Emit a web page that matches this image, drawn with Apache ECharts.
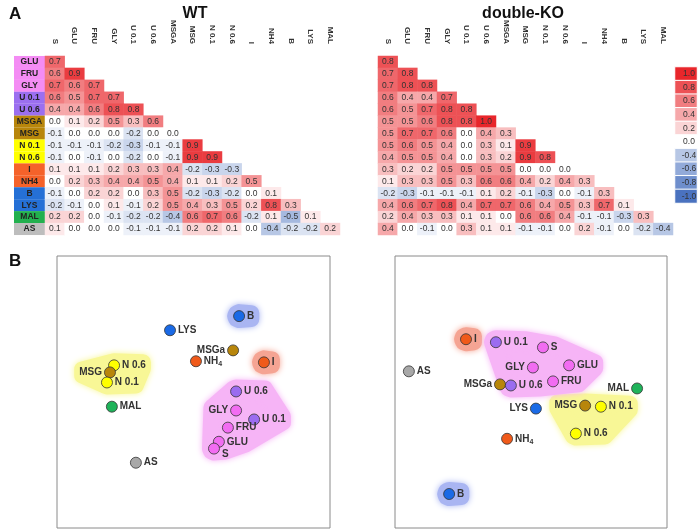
<!DOCTYPE html>
<html>
<head>
<meta charset="utf-8">
<script src="https://cdn.jsdelivr.net/npm/echarts@6/dist/echarts.min.js"></script>
<style>html,body{margin:0;padding:0;background:#fff}#c{width:700px;height:531px}</style>
</head>
<body>
<div id="c"></div>
<script>
// ---------- DATA ----------
const COLS = ['S','GLU','FRU','GLY','U 0.1','U 0.6','MSGA','MSG','N 0.1','N 0.6','I','NH4','B','LYS','MAL'];
const ROWS = ['GLU','FRU','GLY','U 0.1','U 0.6','MSGA','MSG','N 0.1','N 0.6','I','NH4','B','LYS','MAL','AS'];
const ROW_GROUP = ['sug','sug','sug','u','u','msg','msg','n','n','i','i','b','b','mal','as'];

const wtCorr = [
  [0.7],
  [0.6,0.9],
  [0.7,0.6,0.7],
  [0.6,0.5,0.7,0.7],
  [0.4,0.4,0.6,0.8,0.8],
  [0.0,0.1,0.2,0.5,0.3,0.6],
  [-0.1,0.0,0.0,0.0,-0.2,0.0,0.0],
  [-0.1,-0.1,-0.1,-0.2,-0.3,-0.1,-0.1,0.9],
  [-0.1,0.0,-0.1,0.0,-0.2,0.0,-0.1,0.9,0.9],
  [0.1,0.1,0.1,0.2,0.3,0.3,0.4,-0.2,-0.3,-0.3],
  [0.0,0.2,0.3,0.4,0.4,0.5,0.4,0.1,0.1,0.2,0.5],
  [-0.1,0.0,0.2,0.2,0.0,0.3,0.5,-0.2,-0.3,-0.2,0.0,0.1],
  [-0.2,-0.1,0.0,0.1,-0.1,0.2,0.5,0.4,0.3,0.5,0.2,0.8,0.3],
  [0.2,0.2,0.0,-0.1,-0.2,-0.2,-0.4,0.6,0.7,0.6,-0.2,0.1,-0.5,0.1],
  [0.1,0.0,0.0,0.0,-0.1,-0.1,-0.1,0.2,0.2,0.1,0.0,-0.4,-0.2,-0.2,0.2]
];
const koCorr = [
  [0.8],
  [0.7,0.8],
  [0.7,0.8,0.8],
  [0.6,0.4,0.4,0.7],
  [0.6,0.5,0.7,0.8,0.8],
  [0.5,0.5,0.6,0.8,0.8,1.0],
  [0.5,0.7,0.7,0.6,0.0,0.4,0.3],
  [0.5,0.6,0.5,0.4,0.0,0.3,0.1,0.9],
  [0.4,0.5,0.5,0.4,0.0,0.3,0.2,0.9,0.8],
  [0.3,0.2,0.2,0.5,0.5,0.5,0.5,0.0,0.0,0.0],
  [0.1,0.3,0.3,0.5,0.3,0.6,0.6,0.4,0.2,0.4,0.3],
  [-0.2,-0.3,-0.1,-0.1,-0.1,0.1,0.2,-0.1,-0.3,0.0,-0.1,0.3],
  [0.4,0.6,0.7,0.8,0.4,0.7,0.7,0.6,0.4,0.5,0.3,0.7,0.1],
  [0.2,0.4,0.3,0.3,0.1,0.1,0.0,0.6,0.6,0.4,-0.1,-0.1,-0.3,0.3],
  [0.4,0.0,-0.1,0.0,0.3,0.1,0.1,-0.1,-0.1,0.0,0.2,-0.1,0.0,-0.2,-0.4]
];
const legendVals = [1.0,0.8,0.6,0.4,0.2,0.0,-0.4,-0.6,-0.8,-1.0];

// MDS maps (arbitrary units, 0-100 frame)
const mdsNames = ['B','LYS','MSGa','NH4','I','N 0.6','MSG','N 0.1','MAL','U 0.6','GLY','U 0.1','FRU','GLU','S','AS'];
const wtX = [66.7,41.4,64.5,50.9,75.8,20.9,19.4,18.3,20.1,65.6,65.6,72.2,62.6,59.3,57.5,28.9];
const wtY = [77.9,72.7,65.3,61.3,60.9,59.8,57.2,53.5,44.6,50.2,43.2,39.9,36.9,31.7,29.2,24.0];
const koX = [19.9,51.8,38.6,41.2,26.1,66.5,69.9,75.7,89.0,42.6,50.7,37.1,58.1,64.0,54.4,5.1];
const koY = [12.5,43.9,52.8,32.8,69.4,34.7,45.0,44.6,51.3,52.4,59.0,68.3,53.9,59.8,66.4,57.6];

const wtClusters = [['B'],['I'],['MSG','N 0.1','N 0.6'],['U 0.6','GLY','U 0.1','FRU','GLU','S']];
const koClusters = [['B'],['I'],['MSG','N 0.1','N 0.6'],['U 0.1','S','GLY','GLU','U 0.6','FRU']];

// ---------- STYLES ----------
const FONT = 'Arial, "Liberation Sans", sans-serif';
const GROUP_BG = {sug:'#f48cf4', u:'#9b6ff0', msg:'#b8860b', n:'#ffff00', i:'#f5622a', b:'#2570d6', mal:'#22b04e', as:'#bdbdbd'};
const POINT_COLOR = {'B':'#1a6ae6','LYS':'#1a6ae6','MSGa':'#b8860b','MSG':'#b8860b','NH4':'#f05a1a','I':'#f05a1a',
  'N 0.6':'#ffff00','N 0.1':'#ffff00','MAL':'#1fb35a','U 0.6':'#9b6cf0','U 0.1':'#9b6cf0',
  'GLY':'#f26cf2','FRU':'#f26cf2','GLU':'#f26cf2','S':'#f26cf2','AS':'#a8a8a8'};
const BLOB_COLOR = {'B':'#a9b5f2','I':'#f5a493','MSG':'#f8f796','U 0.6':'#f6b4f6','U 0.1':'#f6b4f6'};
const wtSide = {'B':'right','LYS':'right','MSGa':'left','NH4':'right','I':'right','N 0.6':'right','MSG':'left','N 0.1':'right',
  'MAL':'right','U 0.6':'right','GLY':'left','U 0.1':'right','FRU':'right','GLU':'right','S':'right','AS':'right'};
const koSide = {'B':'right','LYS':'left','MSGa':'left','NH4':'right','I':'right','N 0.6':'right','MSG':'left','N 0.1':'right',
  'MAL':'left','U 0.6':'right','GLY':'left','U 0.1':'right','FRU':'right','GLU':'right','S':'right','AS':'right'};
const wtOffset = {'S':[0,6]};

// ---------- HELPERS ----------
function triData(m){ const out=[]; m.forEach((row,r)=>row.forEach((v,c)=>out.push([c,r,v]))); return out; }
const mctx = document.createElement('canvas').getContext('2d');
mctx.font = 'bold 10px ' + FONT;
function lblW(n){ return mctx.measureText(n).width; }
function hull(pts){
  pts.sort((a,b)=>a[0]-b[0]||a[1]-b[1]);
  const cr=(o,a,b)=>(a[0]-o[0])*(b[1]-o[1])-(a[1]-o[1])*(b[0]-o[0]);
  const lo=[],up=[];
  for(const p of pts){while(lo.length>=2&&cr(lo[lo.length-2],lo[lo.length-1],p)<=0)lo.pop();lo.push(p);}
  for(let i=pts.length-1;i>=0;i--){const p=pts[i];while(up.length>=2&&cr(up[up.length-2],up[up.length-1],p)<=0)up.pop();up.push(p);}
  lo.pop();up.pop();return lo.concat(up);
}
function blobSeries(xs, ys, sides, clusters, axisIdx){
  return {
    type:'custom', coordinateSystem:'cartesian2d', xAxisIndex:axisIdx, yAxisIndex:axisIdx, silent:true, z:1,
    data: clusters.map((c,k)=>{const i=mdsNames.indexOf(c[0]); return [xs[i],ys[i],k];}),
    renderItem:function(params, api){
      const members = clusters[params.dataIndex];
      const pts=[];
      members.forEach(n=>{
        const i=mdsNames.indexOf(n); const c=api.coord([xs[i],ys[i]]); const r=4;
        for(let a=0;a<8;a++){const t=a*Math.PI/4; pts.push([c[0]+r*Math.cos(t), c[1]+r*Math.sin(t)]);}
        const w=lblW(n); let x0,x1;
        if(sides[n]==='left'){x1=c[0]-8;x0=x1-w+3;}else{x0=c[0]+8;x1=x0+w-3;}
        pts.push([x0,c[1]-3],[x1,c[1]-3],[x0,c[1]+3],[x1,c[1]+3]);
      });
      const col = BLOB_COLOR[members[0]];
      return {type:'polygon', shape:{points:hull(pts)},
        style:{fill:col, stroke:col, lineWidth:16, lineJoin:'round', shadowBlur:6, shadowColor:col}};
    }
  };
}
function pointSeries(xs, ys, sides, offs, axisIdx){
  return {
    type:'scatter', xAxisIndex:axisIdx, yAxisIndex:axisIdx, symbolSize:11, z:3,
    itemStyle:{borderColor:'#333', borderWidth:0.8, opacity:1},
    emphasis:{disabled:true},
    data: mdsNames.map((n,i)=>({name:n, value:[xs[i],ys[i]], itemStyle:{color:POINT_COLOR[n]},
      label:{position:sides[n], offset:(offs&&offs[n])||[0,0]}})),
    label:{show:true, distance:2, fontSize:10, fontWeight:'bold', color:'#333', fontFamily:FONT,
      formatter:p=>p.name==='NH4'?'{a|NH}{s|4}':p.name,
      rich:{a:{fontSize:10,fontWeight:'bold',color:'#333',fontFamily:FONT},
            s:{fontSize:7,fontWeight:'bold',color:'#333',fontFamily:FONT,padding:[6,0,0,0]}}}
  };
}

const richRows = {};
Object.keys(GROUP_BG).forEach(k=>{ richRows[k]={backgroundColor:GROUP_BG[k], width:31, height:12, lineHeight:12,
  align:'center', fontSize:8.5, fontWeight:'bold', color:'#222', fontFamily:FONT}; });

const hmLabel = {show:true, fontSize:8.5, color:'#333', fontFamily:FONT, textBorderWidth:0, formatter:p=>p.value[2].toFixed(1)};
const colAxis = (gi)=>({type:'category', gridIndex:gi, data:COLS, position:'top',
  axisLine:{show:false}, axisTick:{show:false}, splitLine:{show:false},
  axisLabel:{rotate:90, interval:0, margin:12, fontSize:8, fontWeight:'bold', color:'#333', fontFamily:FONT}});
const valAxis = (gi)=>({type:'value', gridIndex:gi, min:0, max:100, show:false});

const chart = echarts.init(document.getElementById('c'), null, {renderer:'canvas'});
chart.setOption({
  animation:false,
  backgroundColor:'#fff',
  title:[
    {text:'A', left:4, top:1, textStyle:{fontSize:17, fontWeight:'bold', color:'#111', fontFamily:FONT}},
    {text:'WT', left:190, top:1, textAlign:'center', textStyle:{fontSize:16, fontWeight:'bold', color:'#111', fontFamily:FONT}},
    {text:'double-KO', left:518, top:1, textAlign:'center', textStyle:{fontSize:16, fontWeight:'bold', color:'#111', fontFamily:FONT}},
    {text:'B', left:4, top:248, textStyle:{fontSize:17, fontWeight:'bold', color:'#111', fontFamily:FONT}}
  ],
  grid:[
    {left:45, top:56, width:295, height:179},
    {left:378, top:56, width:295, height:179},
    {left:675, top:67, width:22, height:136},
    {left:57, top:256, width:273, height:272, show:true, borderColor:'#8a8a8a', borderWidth:1, backgroundColor:'#fff'},
    {left:395, top:256, width:272, height:272, show:true, borderColor:'#8a8a8a', borderWidth:1, backgroundColor:'#fff'}
  ],
  xAxis:[
    colAxis(0), colAxis(1),
    {type:'category', gridIndex:2, data:['k'], show:false},
    valAxis(3), valAxis(4)
  ],
  yAxis:[
    {type:'category', gridIndex:0, data:ROWS, inverse:true, axisLine:{show:false}, axisTick:{show:false},
      axisLabel:{interval:0, margin:0, formatter:(v,i)=>'{'+ROW_GROUP[i]+'|'+v+'}', rich:richRows}},
    {type:'category', gridIndex:1, data:ROWS, inverse:true, show:false},
    {type:'category', gridIndex:2, data:legendVals.map(v=>v.toFixed(1)), inverse:true, show:false},
    valAxis(3), valAxis(4)
  ],
  visualMap:{type:'continuous', show:false, min:-1, max:1, dimension:2, seriesIndex:[0,1,2],
    inRange:{color:['#4a72bf','#ffffff','#e8262b']}},
  series:[
    {type:'heatmap', xAxisIndex:0, yAxisIndex:0, data:triData(wtCorr), label:hmLabel, emphasis:{disabled:true}},
    {type:'heatmap', xAxisIndex:1, yAxisIndex:1, data:triData(koCorr), label:hmLabel, emphasis:{disabled:true}},
    {type:'heatmap', xAxisIndex:2, yAxisIndex:2, data:legendVals.map((v,i)=>[0,i,v]),
      itemStyle:{borderColor:'#fff', borderWidth:1},
      label:{show:true, fontSize:8.5, color:'#333', textBorderWidth:0, fontFamily:FONT, align:'center', offset:[3,0], formatter:p=>p.value[2].toFixed(1)},
      emphasis:{disabled:true}},
    blobSeries(wtX, wtY, wtSide, wtClusters, 3),
    pointSeries(wtX, wtY, wtSide, wtOffset, 3),
    blobSeries(koX, koY, koSide, koClusters, 4),
    pointSeries(koX, koY, koSide, null, 4)
  ]
});
</script>
</body>
</html>
